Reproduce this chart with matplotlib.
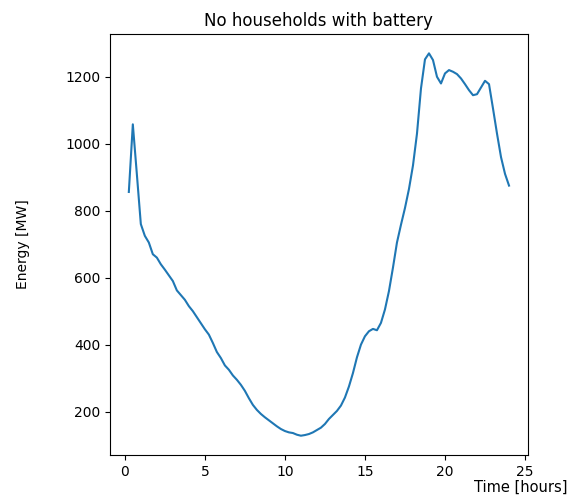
import numpy as np
import matplotlib
matplotlib.use("Agg")
import matplotlib.pyplot as plt

# Quarter-hour time stamps over one day
hours = np.arange(1, 97) * 0.25

# Aggregate grid load without household batteries [MW]
energy_mw = [
    856, 1058, 910, 760, 725, 705, 670, 660,          # 0.25 - 2.0
    640, 624, 607, 590, 562, 548, 534, 515,           # 2.25 - 4.0
    500, 482, 464, 446, 430, 405, 378, 360,           # 4.25 - 6.0
    338, 325, 308, 295, 280, 262, 240, 220,           # 6.25 - 8.0
    205, 193, 183, 174, 165, 156, 148, 142,           # 8.25 - 10.0
    138, 136, 131, 128, 130, 133, 138, 145,           # 10.25 - 12.0
    152, 163, 178, 190, 202, 218, 242, 275,           # 12.25 - 14.0
    315, 362, 400, 425, 440, 447, 443, 465,           # 14.25 - 16.0
    505, 560, 630, 705, 758, 808, 865, 935,           # 16.25 - 18.0
    1030, 1165, 1252, 1270, 1250, 1200, 1180, 1210,   # 18.25 - 20.0
    1220, 1215, 1208, 1195, 1178, 1160, 1145, 1148,   # 20.25 - 22.0
    1168, 1188, 1178, 1105, 1030, 960, 910, 875,      # 22.25 - 24.0
]

fig = plt.figure(figsize=(5.69, 4.96), dpi=100)
ax = fig.add_axes([0.193, 0.083, 0.735, 0.848])

ax.plot(hours, energy_mw, color="#1f77b4", linewidth=1.5)

ax.set_title("No households with battery")
ax.set_ylabel("Energy [MW]", labelpad=25)
ax.set_xlabel("Time [hours]", loc="right", labelpad=1, fontsize=10.5)
ax.xaxis.label.set_x(1.095)
ax.set_xticks([0, 5, 10, 15, 20, 25])

fig.savefig("out.png", dpi=100)
